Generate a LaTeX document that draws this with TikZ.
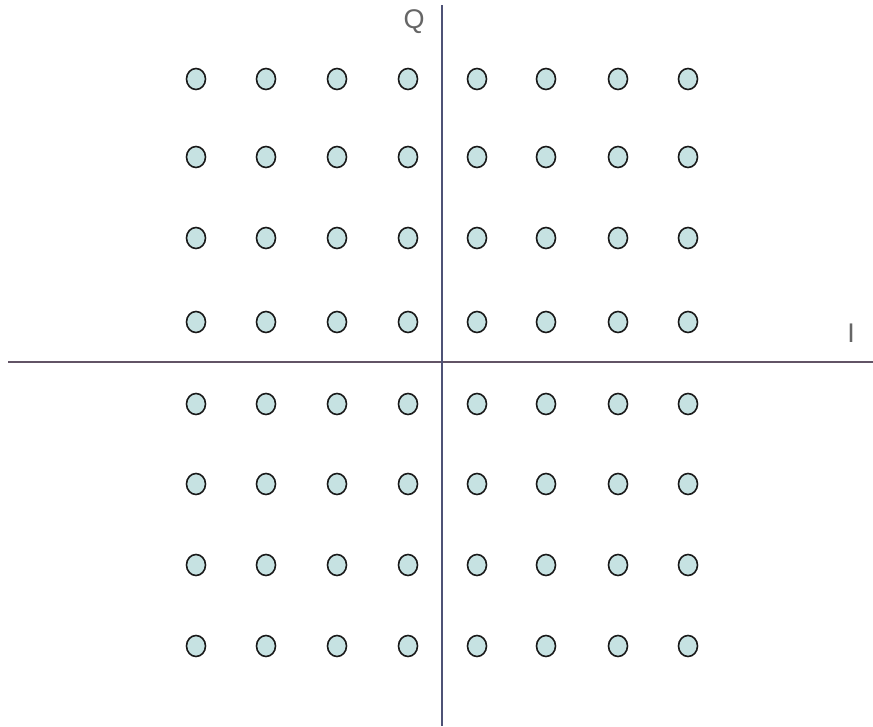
\documentclass[tikz,border=0pt]{standalone}
\usepackage{fontspec}
\setsansfont{Liberation Sans}
\usepackage{tikz}
\usetikzlibrary{positioning, calc, shapes.geometric}
\definecolor{dotfill}{RGB}{198,226,226}
\definecolor{axisv}{RGB}{78,82,118}
\definecolor{axish}{RGB}{98,84,102}
\tikzset{
    symbol/.style={ellipse, draw=black!90, line width=1.6pt, fill=dotfill, minimum width=19pt, minimum height=21pt, inner sep=0pt},
    axislabel/.style={font=\sffamily\fontsize{27}{27}\selectfont, text=black!60},
    axis/.style={line width=1.8pt}
}
\begin{document}
\begin{tikzpicture}[x=1pt, y=-1pt]
            % Canvas
            \useasboundingbox (0,0) rectangle (873,726);

            % Axes ends
            \coordinate (qtop) at (442, 5);
            \coordinate (qbot) at (442, 726);
            \coordinate (ileft) at (8, 362);
            \coordinate (iright) at (873, 362);

            \draw [axis, axish] (ileft) -- (iright);
            \draw [axis, axisv] (qtop) -- (qbot);

            % Axis labels
            \node (qlabel) [axislabel] at (414, 22) {Q};
            \node (ilabel) [axislabel] at (851, 333) {I};

            % 64 constellation points
            \foreach \x [count=\i] in {196, 266, 337, 408, 477, 546, 618, 688} {
                \foreach \y [count=\j] in {79, 157, 238, 322, 404, 484, 565, 646} {
                    \node (pt-\i-\j) [symbol] at (\x, \y) {};
                }
            }
\end{tikzpicture}
\end{document}
